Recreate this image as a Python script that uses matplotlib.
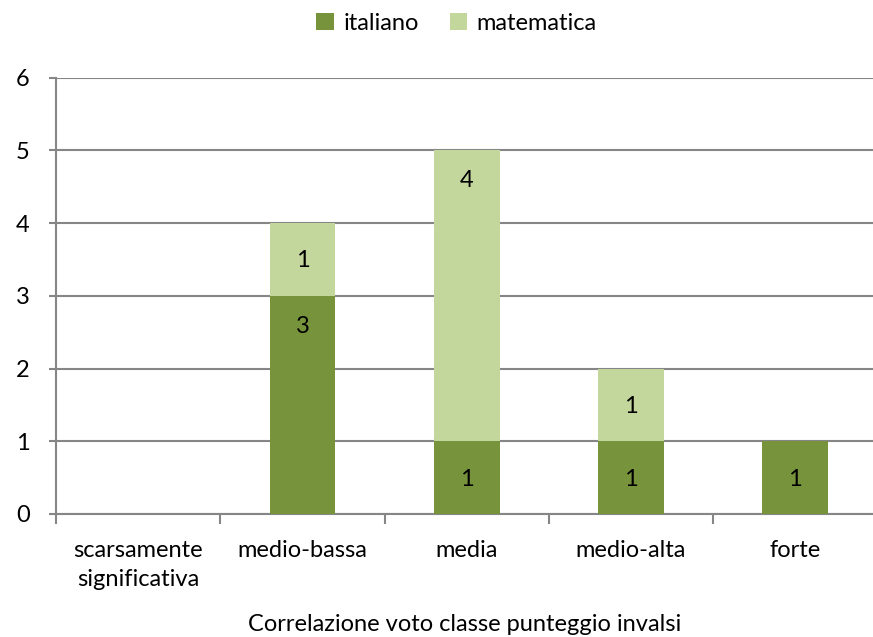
import matplotlib
matplotlib.use("Agg")
import matplotlib.pyplot as plt
import numpy as np

categories = ["scarsamente\nsignificativa", "medio-bassa", "media", "medio-alta", "forte"]
italiano = [0, 3, 1, 1, 1]
matematica = [0, 1, 4, 1, 0]
yticks = [0, 1, 2, 3, 4, 5, 6]
xlabel = "Correlazione voto classe punteggio invalsi"

plt.rcParams['font.family'] = ['Lato', 'DejaVu Sans']
FS = 17

fig = plt.figure(figsize=(8.73, 6.37), dpi=100)
ax = fig.add_axes([56/873, 1-514/637, 1-56/873, (514-77.7)/637])

x = np.arange(len(categories))
c_it = "#77933C"
c_ma = "#C3D69B"
w = 0.4
b1 = ax.bar(x, italiano, w, color=c_it, label="italiano", zorder=3)
b2 = ax.bar(x, matematica, w, bottom=italiano, color=c_ma, label="matematica", zorder=3)

for i in range(len(x)):
    if italiano[i]:
        ax.text(x[i], italiano[i] - 0.52 if italiano[i] == 1 else italiano[i] - 0.42, str(italiano[i]),
                ha="center", va="center", fontsize=FS, color="black", zorder=4)
    if matematica[i]:
        top = italiano[i] + matematica[i]
        ax.text(x[i], top - 0.52 if matematica[i] == 1 else top - 0.42,
                str(matematica[i]), ha="center", va="center", fontsize=FS, color="black", zorder=4)

ax.set_xlim(-0.5, 4.473)
ax.set_ylim(0, 6)
ax.set_yticks(yticks)
ax.set_yticklabels([str(t) for t in yticks], fontsize=FS)
ax.yaxis.grid(True, color="#868686", linewidth=1.5, zorder=0)
ax.set_xticks(x)
ax.set_xticklabels(categories, fontsize=FS, linespacing=1.45)
ax.set_xticks(np.arange(-0.5, 3.6, 1.0), minor=True)
ax.tick_params(axis="x", which="major", length=0, pad=19)
ax.tick_params(axis="x", which="minor", length=7, width=1.5, color="#868686")
ax.tick_params(axis="y", length=5, width=1.5, color="#868686", pad=14)

for s in ["top", "right"]:
    ax.spines[s].set_visible(False)
for s in ["left", "bottom"]:
    ax.spines[s].set_color("#868686")
    ax.spines[s].set_linewidth(1.5)

ax.set_xlabel(xlabel, fontsize=FS, labelpad=17)

fig.legend(handles=[b1, b2], loc="upper center", bbox_to_anchor=(0.523, 1.013), ncol=2,
           frameon=False, fontsize=FS, handlelength=0.75, handleheight=0.75,
           handletextpad=0.4, columnspacing=1.3)

fig.savefig("out.png", dpi=100)
